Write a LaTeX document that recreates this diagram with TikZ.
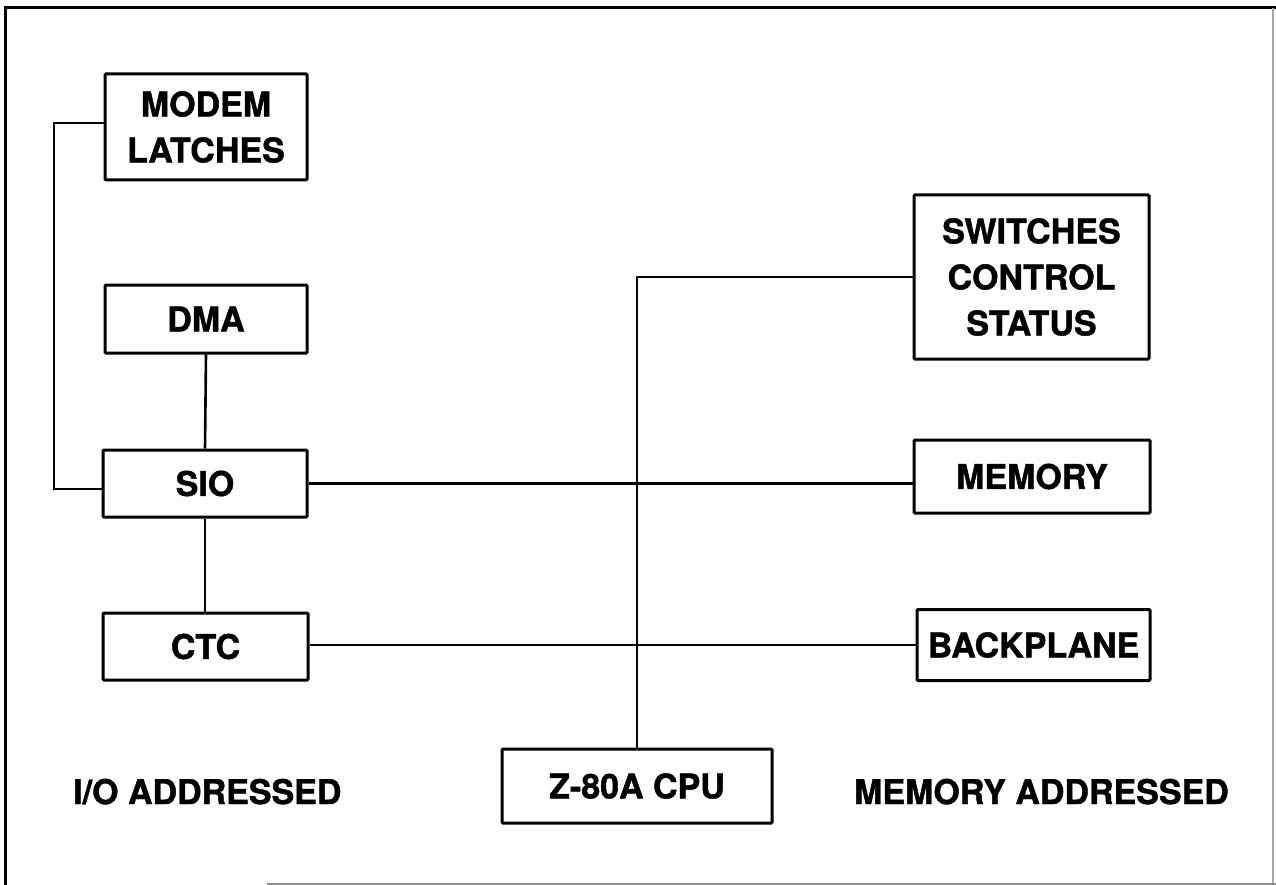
\documentclass[tikz,border=0pt]{standalone}
\usepackage{fontspec}
\setmainfont{TeX Gyre Heros}[BoldFeatures={FakeBold=1.3}]
\begin{document}
\begin{tikzpicture}[x=1pt,y=-1pt,
  blk/.style={draw,line width=3pt,rounded corners=1pt,inner sep=0pt,align=center,
    font=\fontsize{34}{46}\selectfont\bfseries},
  wire/.style={line width=2.6pt},
  lbl/.style={inner sep=0pt,font=\fontsize{34}{46}\selectfont\bfseries}]
\useasboundingbox (0,0) rectangle (1276,885);
% frame
\draw[line width=3pt] (1276,8) -- (5,8) -- (5,885);
\draw[line width=1.5pt,black!35] (1273,8) -- (1273,885);
\draw[line width=1.6pt,black!45] (267,884) -- (1276,884);
% boxes
\node[blk,minimum width=202,minimum height=106] (modem) at (206,127) {MODEM\\LATCHES};
\node[blk,minimum width=202,minimum height=68] (dma) at (206,319) {DMA};
\node[blk,minimum width=204,minimum height=67] (sio) at (205,483.5) {SIO};
\node[blk,minimum width=205,minimum height=67] (ctc) at (205.5,646.5) {CTC};
\node[blk,minimum width=235,minimum height=164] (sw) at (1031.5,277) {SWITCHES\\CONTROL\\STATUS};
\node[blk,minimum width=236,minimum height=73] (mem) at (1032,476.5) {MEMORY};
\node[blk,minimum width=233,minimum height=71] (bp) at (1033.5,645) {BACKPLANE};
\node[blk,minimum width=270,minimum height=74] (cpu) at (637,786) {Z-80A CPU};
% labels
\node[lbl,anchor=base west] (io) at (73,804) {I/O ADDRESSED};
\node[lbl,anchor=base east] (ma) at (1229,804) {MEMORY ADDRESSED};
% connectors
\coordinate (ml) at (54,123);
\coordinate (sl) at (54,489);
\draw[wire] (ml -| modem.west) -- (ml) -- (sl) -- (sl -| sio.west);
\draw[wire] (dma.south) -- (sio.north);
\draw[wire] (sio.south) -- (ctc.north -| sio.south);
\draw[wire] (sio.east) -- (sio.east -| mem.west);
\draw[wire] (ctc.east |- bp.west) -- (bp.west);
\draw[wire] (cpu.north) |- (sw.west);
\end{tikzpicture}
\end{document}
